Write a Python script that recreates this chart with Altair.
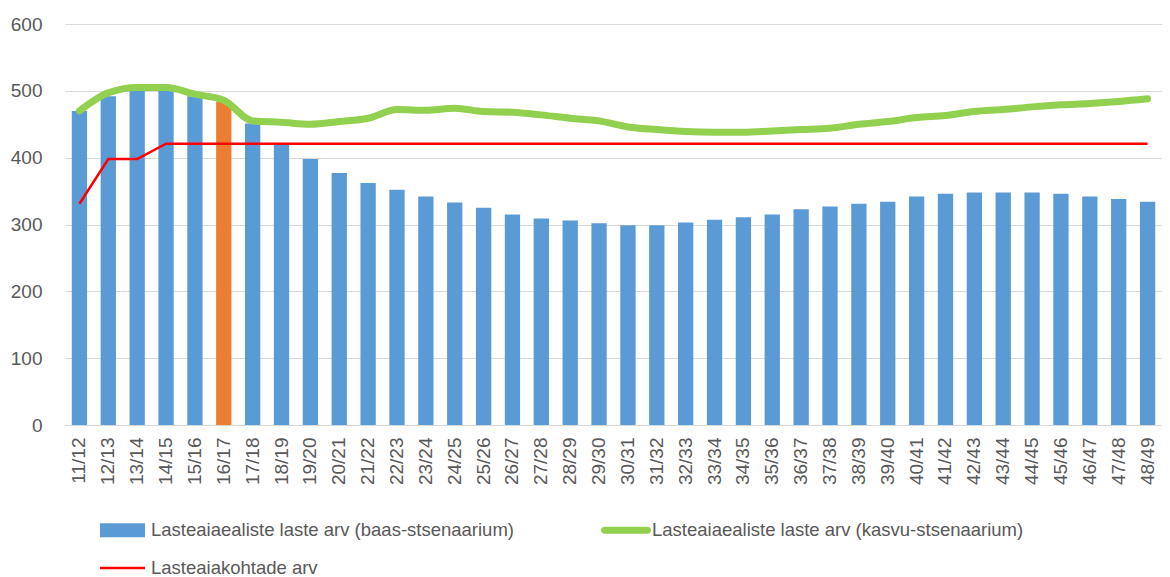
import altair as alt
import pandas as pd

years = ["11/12", "12/13", "13/14", "14/15", "15/16", "16/17", "17/18", "18/19", "19/20", "20/21",
         "21/22", "22/23", "23/24", "24/25", "25/26", "26/27", "27/28", "28/29", "29/30", "30/31",
         "31/32", "32/33", "33/34", "34/35", "35/36", "36/37", "37/38", "38/39", "39/40", "40/41",
         "41/42", "42/43", "43/44", "44/45", "45/46", "46/47", "47/48", "48/49"]

baas = [470, 492, 501, 502, 492, 484, 451, 420, 398, 377,
        362, 352, 342, 333, 325, 315, 309, 306, 302, 299,
        299, 303, 307, 311, 315, 323, 327, 331, 334, 342,
        346, 348, 348, 348, 346, 342, 338, 334]

kasvu = [470, 497, 505, 505, 495, 486, 455, 453, 450, 454,
         459, 472, 471, 474, 469, 468, 464, 459, 455, 446,
         442, 439, 438, 438, 440, 442, 444, 450, 454, 460,
         463, 469, 472, 476, 479, 481, 484, 488]

kohtade = [331, 398, 398, 421, 421, 421, 421, 421, 421, 421,
           421, 421, 421, 421, 421, 421, 421, 421, 421, 421,
           421, 421, 421, 421, 421, 421, 421, 421, 421, 421,
           421, 421, 421, 421, 421, 421, 421, 421]

highlight_year = "16/17"

name_baas = "Lasteaiaealiste laste arv (baas-stsenaarium)"
name_kasvu = "Lasteaiaealiste laste arv (kasvu-stsenaarium)"
name_kohtade = "Lasteaiakohtade arv"
# legend grid fills column by column: first column baas + kohtade, second column kasvu
legend_order = [name_baas, name_kohtade, name_kasvu]

BLUE = "#5B9BD5"
ORANGE = "#ED7D31"
GREEN = "#92D050"
RED = "#FF0000"
TEXT = "#595959"
GRID = "#D9D9D9"
FONT = "Liberation Sans"

df = pd.DataFrame({"year": years, "baas": baas, "kasvu": kasvu, "kohtade": kohtade})
leg_df = pd.DataFrame({"series": legend_order})

x_axis = alt.Axis(labelAngle=270, labelFontSize=19, labelColor=TEXT, labelFont=FONT,
                  labelPadding=12, ticks=False, domainColor=GRID, domainWidth=1,
                  grid=False, title=None)
y_axis = alt.Axis(values=[0, 100, 200, 300, 400, 500, 600], title=None, domain=False,
                  ticks=False, gridColor=GRID, gridWidth=1, labelFontSize=19,
                  labelColor=TEXT, labelFont=FONT, labelPadding=23)

xenc = alt.X("year:N", sort=years, scale=alt.Scale(paddingInner=0.47), axis=x_axis)
yscale = alt.Scale(domain=[0, 600], nice=False)

base = alt.Chart(df)

bars = base.mark_bar().encode(
    x=xenc,
    y=alt.Y("baas:Q", scale=yscale, axis=y_axis),
    fill=alt.condition(alt.datum.year == highlight_year, alt.value(ORANGE), alt.value(BLUE)),
)

red_line = base.mark_line(color=RED, strokeWidth=2.5).encode(
    x=alt.X("year:N", sort=years),
    y=alt.Y("kohtade:Q", title=None),
)

green_line = base.mark_line(color=GREEN, strokeWidth=7, strokeCap="round",
                            strokeJoin="round", interpolate="monotone").encode(
    x=alt.X("year:N", sort=years),
    y=alt.Y("kasvu:Q", title=None),
)

sym_bar = "M-1,-0.7H3.5V0.7H-1Z"
sym_green = "M-0.65,-0.35L3.65,-0.35A0.35,0.35 0 0 1 3.65,0.35L-0.65,0.35A0.35,0.35 0 0 1 -0.65,-0.35Z"
sym_red = "M-1,-0.12H3.5V0.12H-1Z"

legend = alt.Legend(orient="none", legendX=35, legendY=496, columns=2, title=None,
                    symbolSize=400, symbolStrokeWidth=0, symbolOpacity=1,
                    labelFontSize=18.5, labelColor=TEXT, labelFont=FONT, labelLimit=900,
                    labelOffset=31, columnPadding=87, rowPadding=18, padding=0)

legend_layer = alt.Chart(leg_df).mark_point(filled=True, opacity=0).encode(
    color=alt.Color("series:N", scale=alt.Scale(domain=legend_order, range=[BLUE, RED, GREEN]),
                    legend=legend),
    shape=alt.Shape("series:N", scale=alt.Scale(domain=legend_order, range=[sym_bar, sym_red, sym_green]),
                    legend=legend),
)

chart = alt.layer(bars, red_line, green_line, legend_layer).properties(
    width=1097, height=401,
    padding={"left": 2, "top": 7, "right": 0, "bottom": 0},
).configure_view(stroke=None)

chart.save("out.html", embed_options={"renderer": "svg", "actions": False})
